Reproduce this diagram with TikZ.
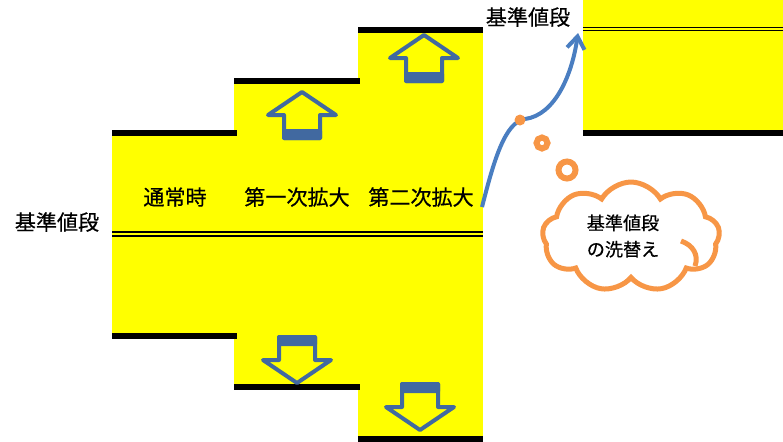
\documentclass[tikz,border=0pt]{standalone}
\usepackage{fontspec}
\newfontfamily\jpfont[FakeBold=0.5]{Noto Sans CJK JP}
\usetikzlibrary{shapes.symbols,arrows.meta}
\definecolor{baseyellow}{RGB}{255,255,0}
\definecolor{arrowblue}{RGB}{65,105,160}
\definecolor{curveblue}{RGB}{74,126,193}
\definecolor{noteorange}{RGB}{247,150,70}
\tikzset{
    shiftarrow/.style={draw=arrowblue,line width=4*0.02cm,line join=round},
    growcurve/.style={draw=curveblue,line width=4*0.02cm,-{Straight Barb[length=7pt,width=10pt]}},
    stagelabel/.style={font=\jpfont\labelfontsize,inner sep=0},
    thought/.style={cloud,cloud puffs=9,cloud puff arc=120,cloud ignores aspect,draw=noteorange,line width=5*0.02cm,fill=white},
    notetext/.style={align=center,inner sep=0,font=\jpfont\notefontsize}
}
\begin{document}
\begin{tikzpicture}[x=0.02cm,y=-0.02cm]
    \pgfmathsetmacro{\barhalf}{3}
    \pgfmathsetmacro{\headhalf}{34}
    \pgfmathsetmacro{\stemhalf}{18}
    \pgfmathsetmacro{\headlen}{23}
    \providecommand{\labelfontsize}{\fontsize{12pt}{14pt}\selectfont}
    \providecommand{\notefontsize}{\fontsize{10.3pt}{15pt}\selectfont}
    \useasboundingbox (0,0) rectangle (783,441);
    \foreach \xl/\xr/\yt/\yb in {112/237/133/336, 234/360/81/387, 358/483/30/439}{
        \fill[baseyellow] (\xl,\yt) rectangle (\xr,\yb);
    }
    \fill[baseyellow] (583,0) rectangle (783,133);
    \foreach \xl/\xr/\yt/\yb in {112/237/133/336, 234/360/81/387, 358/483/30/439}{
        \fill (\xl,\yt-\barhalf) rectangle (\xr,\yt+\barhalf);
        \fill (\xl,\yb-\barhalf) rectangle (\xr,\yb+\barhalf);
    }
    \fill (583,133-\barhalf) rectangle (783,133+\barhalf);
    % double lines = base price
    \fill (112,231) rectangle (483,233);
    \fill (112,234.8) rectangle (483,236.8);
    \fill (583,26.6) rectangle (783,28.2);
    \fill (583,29.8) rectangle (783,31.4);
    \foreach \cx/\ty/\d in {302/92/1, 424/35/1, 297/383/-1, 420/430/-1}{
        \draw[shiftarrow] (\cx,\ty) -- ++(\headhalf,\headlen*\d) -- ++(\stemhalf-\headhalf,0) -- ++(0,\headlen*\d)
            -- ++(-2*\stemhalf,0) -- ++(0,-\headlen*\d) -- ++(\stemhalf-\headhalf,0) -- cycle;
        \fill[arrowblue,rounded corners=1] (\cx-\stemhalf-2,\ty+37*\d) rectangle (\cx+\stemhalf+2,\ty+48*\d);
    }
    \node[stagelabel] (normal) at (175,197) {通常時};
    \node[stagelabel] (first) at (297,197) {第一次拡大};
    \node[stagelabel] (second) at (421,197) {第二次拡大};
    \node[stagelabel] (oldbase) at (57,222) {基準値段};
    \node[stagelabel] (newbase) at (528,17) {基準値段};
    \coordinate (curvestart) at (482,207);
    \coordinate (curveend) at (578,33);
    \draw[growcurve] (curvestart) .. controls (494,160) and (505,122) .. (525,119)
        .. controls (555,115) and (572,75) .. (curveend);
    \fill[noteorange] (520,120) circle (5.5);
    \draw[noteorange,line width=6*0.02cm] (542,143) circle (5.5);
    \draw[noteorange,line width=6*0.02cm] (567,170) circle (8.5);
    \node[thought,minimum width=3.55cm,minimum height=2.2cm] (note) at (631,237) {};
    \node[notetext] (notelabel) at (623,236) {基準値段\\の洗替え};
    \draw[noteorange,line width=5*0.02cm] (681,241) .. controls (693,245) and (699,255) .. (695,266);
\end{tikzpicture}
\end{document}
